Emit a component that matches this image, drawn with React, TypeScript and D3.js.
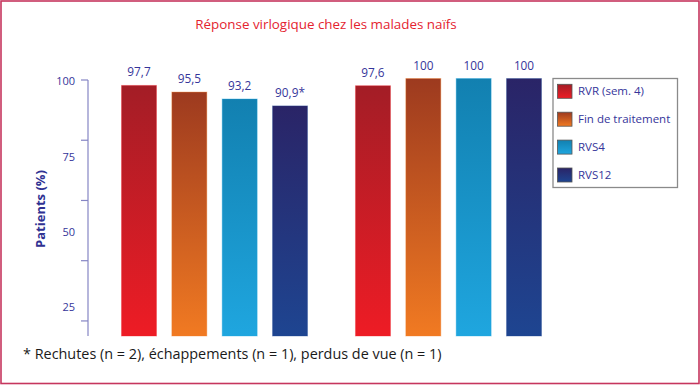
import React from "react";
import * as d3 from "d3";

const groups = ["g1", "g2"];
const series = ["RVR (sem. 4)", "Fin de traitement", "RVS4", "RVS12"];
const group1Values = [97.7, 95.5, 93.2, 90.9];
const group2Values = [97.6, 100, 100, 100];
const group1Labels = ["97,7", "95,5", "93,2", "90,9*"];
const group2Labels = ["97,6", "100", "100", "100"];
const tickLabelValues = [100, 75, 50, 25];
const tickMarkValues = [100, 80, 60, 40, 20];
const topColors = ["#a31d26", "#9d3a1f", "#1280b0", "#2a2467"];
const bottomColors = ["#ee1c25", "#f17a22", "#1fa6df", "#1e4591"];

const title = "Réponse virlogique chez les malades naïfs";
const yTitle = "Patients (%)";
const footnote = "* Rechutes (n = 2), échappements (n = 1), perdus de vue (n = 1)";

const W = 700;
const H = 385;
const FONT = "'Open Sans', 'Noto Sans', sans-serif";
const BLUE = "#35359a";

export default function App() {
  const y = d3.scaleLinear().domain([14.5, 100]).range([336, 78.5]);
  const x0 = d3.scaleBand<string>().domain(groups).range([121.5, 541.5]).paddingInner(0.205).paddingOuter(0);
  const x1 = d3.scaleBand<string>().domain(series).range([0, x0.bandwidth()]).paddingInner(0.305).paddingOuter(0);
  const axisX = 88;

  const data = [
    { g: "g1", values: group1Values, labels: group1Labels },
    { g: "g2", values: group2Values, labels: group2Labels },
  ];

  const legendX = 553;
  const legendY = 78.5;
  const rowStep = 27.9;

  return (
    <svg width={W} height={H} style={{ position: "absolute", left: 0, top: 0 }} fontFamily={FONT}>
      <defs>
        {series.map((s, i) => (
          <linearGradient key={s} id={`grad${i}`} x1="0" y1="0" x2="0" y2="1">
            <stop offset="0%" stopColor={topColors[i]} />
            <stop offset="100%" stopColor={bottomColors[i]} />
          </linearGradient>
        ))}
      </defs>
      <rect x={0} y={0} width={W} height={H} fill="#fff" />
      <rect x={1} y={1} width={W - 2} height={H - 2.5} fill="none" stroke="#c6365e" strokeWidth={1.6} />

      <text x={326} y={29} textAnchor="middle" fontSize={13.4} fill="#e4232f">
        {title}
      </text>

      {/* y axis */}
      <line x1={axisX} x2={axisX} y1={y(100) + 1.5} y2={y.range()[0]} stroke="#8585c4" strokeWidth={1.2} />
      {tickMarkValues.map((v) => (
        <line key={v} x1={axisX - 7} x2={axisX} y1={y(v) + 1.5} y2={y(v) + 1.5} stroke="#8585c4" strokeWidth={1.2} />
      ))}
      {tickLabelValues.map((v) => (
        <text key={v} x={75} y={y(v) + 3} dy="0.35em" textAnchor="end" fontSize={11} fill={BLUE}>
          {v}
        </text>
      ))}
      <text
        transform={`translate(45,209) rotate(-90)`}
        textAnchor="middle"
        fontSize={13}
        fontWeight="bold"
        fill="#2f3192"
      >
        {yTitle}
      </text>

      {/* bars */}
      {data.map((d) =>
        d.values.map((v, i) => {
          const bx = (x0(d.g) as number) + (x1(series[i]) as number);
          const top = y(v);
          return (
            <g key={d.g + i}>
              <rect
                x={bx}
                y={top}
                width={x1.bandwidth()}
                height={y.range()[0] - top}
                fill={`url(#grad${i})`}
                stroke={bottomColors[i]}
                strokeOpacity={0.35}
                strokeWidth={1}
              />
              <text x={bx + x1.bandwidth() / 2} y={top - 9} textAnchor="middle" fontSize={11.8} fill={BLUE}>
                {d.labels[i]}
              </text>
            </g>
          );
        })
      )}

      {/* legend */}
      <rect x={legendX} y={legendY} width={124.5} height={109} fill="#fff" stroke="#8a8a8a" strokeWidth={1.3} />
      {series.map((s, i) => (
        <g key={s} transform={`translate(${legendX + 4.5},${legendY + 5.8 + i * rowStep})`}>
          <rect x={0} y={0} width={14.5} height={14} fill={`url(#grad${i})`} stroke="#555" strokeWidth={0.8} />
          <text x={20.5} y={7} dy="0.35em" fontSize={11.5} fill={BLUE}>
            {s}
          </text>
        </g>
      ))}

      <text x={23} y={359} fontSize={14.4} fill="#1a1a1a">
        {footnote}
      </text>
    </svg>
  );
}
